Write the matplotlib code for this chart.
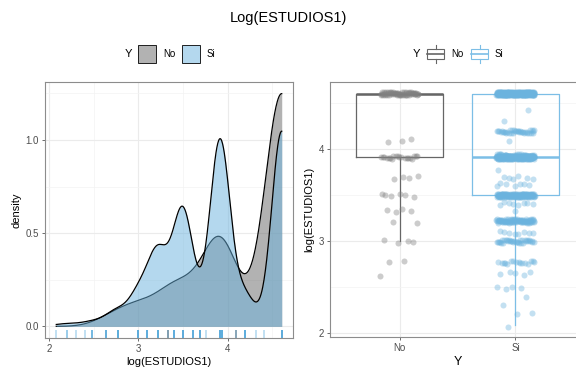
import numpy as np
import matplotlib
matplotlib.use("Agg")
import matplotlib.pyplot as plt
import matplotlib.patches as mpatches
from matplotlib.lines import Line2D
from matplotlib.colors import to_rgba

plt.rcParams['font.family'] = ['Liberation Sans', 'DejaVu Sans']

# ---------------- data ----------------
values = [8, 9, 10, 11, 12, 14, 16, 20, 22, 25, 28, 30, 33, 37, 40, 43, 50, 51, 60, 66, 75, 82, 100]
count_si = [1, 2, 1, 1, 4, 5, 16, 34, 8, 82, 1, 8, 131, 7, 6, 1, 203, 23, 1, 36, 1, 1, 238]
count_no = [0, 0, 0, 0, 0, 1, 2, 4, 0, 2, 4, 0, 6, 0, 4, 0, 20, 0, 3, 0, 0, 0, 63]
groups = ["No", "Si"]
bandwidths = {"No": 0.185, "Si": 0.112}
title = "Log(ESTUDIOS1)"

col_fill = {"No": "#666666", "Si": "#6BB3DE"}
col_box = {"No": "#666666", "Si": "#7CBEE6"}
col_pt = {"No": "#808080", "Si": "#6BB3DE"}

logv = np.log(np.array(values, dtype=float))
obs = {
    "No": np.repeat(logv, count_no),
    "Si": np.repeat(logv, count_si),
}
allobs = np.concatenate([obs["No"], obs["Si"]])
lo, hi = allobs.min(), allobs.max()
span = hi - lo

W, H = 576, 372
fig = plt.figure(figsize=(W / 100, H / 100), dpi=100)

def fx(px):
    return px / W

def fy(py):
    return 1 - py / H

def style_axes(ax):
    for s in ax.spines.values():
        s.set_color("#8c8c8c")
        s.set_linewidth(0.8)
    ax.tick_params(axis="both", which="major", length=2.5, width=0.6, color="#555555",
                   labelsize=7, labelcolor="#4D4D4D", pad=2)
    ax.tick_params(axis="both", which="minor", length=0)
    ax.grid(True, which="major", color="#EBEBEB", lw=0.8, zorder=0)
    ax.grid(True, which="minor", color="#F3F3F3", lw=0.5, zorder=0)
    ax.set_axisbelow(True)

# ---------------- left: density ----------------
ax1 = fig.add_axes([fx(45), fy(338), fx(293) - fx(45), fy(82) - fy(338)])
xs = np.linspace(lo, hi, 512)
dens = {}
for g in groups:
    h = bandwidths[g]
    o = obs[g]
    dens[g] = np.exp(-0.5 * ((xs[:, None] - o[None, :]) / h) ** 2).sum(axis=1) / (len(o) * h * np.sqrt(2 * np.pi))
for i, g in enumerate(groups):
    ax1.fill_between(xs, 0, dens[g], color=col_fill[g], alpha=0.5, lw=0, zorder=2 + 2 * i)
    ax1.plot(xs, dens[g], color="black", lw=0.9, zorder=3 + 2 * i)
# rug
for g in groups:
    rc = "#888888" if g == "No" else "#5FAEDD"
    ax1.vlines(obs[g], 0, 0.03, transform=ax1.get_xaxis_transform(), color=rc,
               alpha=0.45, lw=1.2, zorder=6)
dmax = max(dens[g].max() for g in groups)
ax1.set_xlim(lo - 0.05 * span, hi + 0.05 * span)
ax1.set_ylim(-0.05 * dmax, 1.05 * dmax)
ax1.set_xticks([2, 3, 4])
ax1.set_xticks([2.5, 3.5, 4.5], minor=True)
ax1.set_yticks([0, 0.5, 1.0])
ax1.set_yticklabels(["0.0", "0.5", "1.0"])
ax1.set_yticks([0.25, 0.75, 1.25], minor=True)
style_axes(ax1)
ax1.set_xlabel("log(ESTUDIOS1)", fontsize=8, labelpad=2)
ax1.set_ylabel("density", fontsize=8, labelpad=3)

# ---------------- right: boxplot + jitter ----------------
ax2 = fig.add_axes([fx(330), fy(337), fx(585) - fx(330), fy(82) - fy(337)])
for i, g in enumerate(groups):
    c = col_box[g]
    ax2.boxplot([obs[g]], positions=[i + 1], widths=0.75, showfliers=False, whis=1.5,
                patch_artist=False, manage_ticks=False,
                boxprops=dict(color=c, lw=0.9),
                whiskerprops=dict(color=c, lw=0.9),
                capprops=dict(lw=0),
                medianprops=dict(color=c, lw=1.8),
                zorder=3)
for i, g in enumerate(groups):
    o = obs[g]
    jx = np.array([((k * 0.6180339887 + 0.31 * i) % 1 - 0.5) * 2 * 0.165 for k in range(len(o))])
    jy = np.array([((k * 0.7548776662 + 0.17 * i) % 1 - 0.5) * 2 * 0.02 for k in range(len(o))])
    ax2.scatter(i + 1 + jx, o + jy, s=19, color=col_pt[g], alpha=0.4, lw=0, zorder=4)
ax2.set_xlim(0.4, 2.6)
ax2.set_ylim(lo - 0.05 * span, hi + 0.05 * span)
ax2.set_xticks([1, 2])
ax2.set_xticklabels(groups)
ax2.set_yticks([2, 3, 4])
ax2.set_yticks([2.5, 3.5, 4.5], minor=True)
style_axes(ax2)
ax2.grid(False, which="minor", axis="x")
ax2.set_xlabel("Y", fontsize=9, labelpad=2)
ax2.set_ylabel("log(ESTUDIOS1)", fontsize=8, labelpad=3)

# ---------------- title ----------------
fig.text(0.5, fy(18), title, ha="center", va="center", fontsize=10.5)

# ---------------- legends ----------------
ly = 54
fig.text(fx(132), fy(ly), "Y", ha="right", va="center", fontsize=8)
for (x0, g, tx) in [(138, "No", 163), (182, "Si", 207)]:
    fig.add_artist(mpatches.Rectangle((fx(x0), fy(63)), fx(18), 18 / H,
                                      transform=fig.transFigure,
                                      facecolor=to_rgba(col_fill[g], 0.5),
                                      edgecolor="black", lw=0.6))
    fig.text(fx(tx), fy(ly), g, ha="left", va="center", fontsize=7)

fig.text(fx(420), fy(ly), "Y", ha="right", va="center", fontsize=8)
for (x0, g, tx) in [(427, "No", 451), (471, "Si", 495)]:
    c = col_box[g]
    cx = x0 + 8.5
    fig.add_artist(mpatches.Rectangle((fx(x0), fy(59)), fx(17), 10 / H,
                                      transform=fig.transFigure, facecolor="white",
                                      edgecolor=c, lw=0.8))
    fig.add_artist(Line2D([fx(x0), fx(x0 + 17)], [fy(54), fy(54)], transform=fig.transFigure,
                          color=c, lw=1.2))
    fig.add_artist(Line2D([fx(cx), fx(cx)], [fy(45), fy(49)], transform=fig.transFigure,
                          color=c, lw=0.8))
    fig.add_artist(Line2D([fx(cx), fx(cx)], [fy(59), fy(63)], transform=fig.transFigure,
                          color=c, lw=0.8))
    fig.text(fx(tx), fy(ly), g, ha="left", va="center", fontsize=7)

fig.savefig("out.png", dpi=100)
